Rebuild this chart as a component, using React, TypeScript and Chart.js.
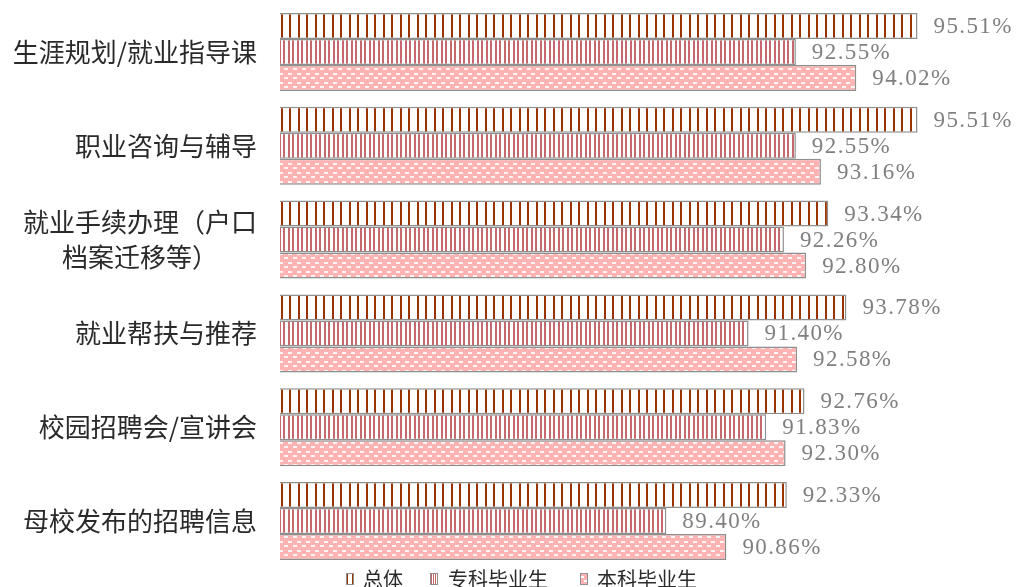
import React, { useEffect, useRef } from "react";
import { Chart, registerables } from "chart.js";

Chart.register(...registerables);

const categories: (string | string[])[] = [
  "生涯规划/就业指导课",
  "职业咨询与辅导",
  ["就业手续办理（户口", "档案迁移等）"],
  "就业帮扶与推荐",
  "校园招聘会/宣讲会",
  "母校发布的招聘信息",
];
const seriesNames = ["总体", "专科毕业生", "本科毕业生"];
const overall = [95.51, 95.51, 93.34, 93.78, 92.76, 92.33];
const junior = [92.55, 92.55, 92.26, 91.4, 91.83, 89.4];
const bachelor = [94.02, 93.16, 92.8, 92.58, 92.3, 90.86];
const axisMin = 80;
const axisMax = 97.76;

const DARK_RED = "#993300";
const ROSE = "#c46a6e";
const PINK = "#ffb3b3";
const BORDER = "#8f8f8f";

function makePattern(kind: number): CanvasPattern | string {
  const c = document.createElement("canvas");
  const ctx = c.getContext("2d");
  if (!ctx) return "#fff";
  if (kind === 0) {
    c.width = 17;
    c.height = 4;
    ctx.fillStyle = "#ffffff";
    ctx.fillRect(0, 0, 17, 4);
    ctx.fillStyle = DARK_RED;
    ctx.fillRect(0, 0, 2, 4);
    ctx.fillRect(9, 0, 2, 4);
  } else if (kind === 1) {
    c.width = 9;
    c.height = 4;
    ctx.fillStyle = "#ffffff";
    ctx.fillRect(0, 0, 9, 4);
    ctx.fillStyle = ROSE;
    ctx.fillRect(0, 0, 2, 4);
    ctx.fillRect(4, 0, 2, 4);
  } else {
    c.width = 9;
    c.height = 9;
    ctx.fillStyle = PINK;
    ctx.fillRect(0, 0, 9, 9);
    ctx.fillStyle = "#fff4f4";
    ctx.fillRect(0, 1, 4, 2);
    ctx.fillRect(5, 5, 4, 2);
  }
  const p = ctx.createPattern(c, "repeat");
  return p || "#fff";
}

const labelPlugin = {
  id: "customLabels",
  afterDraw(chart: any) {
    const ctx: CanvasRenderingContext2D = chart.ctx;
    ctx.save();
    // value labels
    ctx.font = '23px "Liberation Serif"';
    (ctx as any).letterSpacing = "1.4px";
    ctx.fillStyle = "#808080";
    ctx.textAlign = "left";
    ctx.textBaseline = "middle";
    chart.data.datasets.forEach((ds: any, di: number) => {
      const meta = chart.getDatasetMeta(di);
      meta.data.forEach((bar: any, i: number) => {
        const v = ds.data[i] as number;
        ctx.fillText(v.toFixed(2) + "%", bar.x + 16, bar.y + 1);
      });
    });
    (ctx as any).letterSpacing = "0px";
    // category labels
    const yScale = chart.scales.y;
    ctx.font = '26px "Noto Sans CJK SC"';
    ctx.fillStyle = "#2a2a2a";
    ctx.textAlign = "center";
    const rightEdge = 257;
    const lineH = 35;
    categories.forEach((cat, i) => {
      const lines = Array.isArray(cat) ? cat : [cat];
      const w = Math.max(...lines.map((l) => ctx.measureText(l).width));
      const cx = rightEdge - w / 2;
      const cy = yScale.getPixelForValue(i);
      lines.forEach((l, k) => {
        ctx.fillText(l, cx, cy + (k - (lines.length - 1) / 2) * lineH);
      });
    });
    // legend
    const legendY = 579;
    const items = [
      { box: 346, text: 363 },
      { box: 430, text: 448 },
      { box: 580, text: 597 },
    ];
    ctx.font = '20px "Noto Sans CJK SC"';
    ctx.textAlign = "left";
    items.forEach((it, k) => {
      const bx = it.box;
      const by = legendY - 6;
      const bw = 8;
      const bh = 12;
      if (k === 0) {
        ctx.fillStyle = "#ffffff";
        ctx.fillRect(bx, by, bw, bh);
        ctx.fillStyle = DARK_RED;
        ctx.fillRect(bx, by, 2, bh);
        ctx.fillRect(bx + bw - 2, by, 2, bh);
      } else if (k === 1) {
        ctx.fillStyle = "#ffffff";
        ctx.fillRect(bx, by, bw, bh);
        ctx.fillStyle = ROSE;
        ctx.fillRect(bx + 1, by, 1, bh);
        ctx.fillRect(bx + 3, by, 1, bh);
        ctx.fillRect(bx + 5, by, 1, bh);
      } else {
        ctx.fillStyle = PINK;
        ctx.fillRect(bx, by, bw, bh);
        ctx.fillStyle = "#ffffff";
        ctx.fillRect(bx + 1, by + 3, 3, 2);
        ctx.fillRect(bx + 4, by + 7, 3, 2);
      }
      ctx.strokeStyle = BORDER;
      ctx.lineWidth = 1;
      ctx.strokeRect(bx + 0.5, by + 0.5, bw - 1, bh - 1);
      ctx.fillStyle = "#2a2a2a";
      ctx.textBaseline = "middle";
      ctx.fillText(seriesNames[k], it.text, legendY);
    });
    ctx.restore();
  },
};

export default function App() {
  const ref = useRef<HTMLCanvasElement | null>(null);
  useEffect(() => {
    if (!ref.current) return;
    const patterns = [makePattern(0), makePattern(1), makePattern(2)];
    const seriesData = [overall, junior, bachelor];
    const chart = new Chart(ref.current, {
      type: "bar",
      data: {
        labels: categories as any,
        datasets: seriesNames.map((name, k) => ({
          label: name,
          data: seriesData[k],
          backgroundColor: patterns[k] as any,
          borderColor: BORDER,
          borderWidth: 1.5,
          borderSkipped: false,
          categoryPercentage: 0.8313,
          barPercentage: 1,
        })),
      },
      options: {
        indexAxis: "y",
        responsive: false,
        animation: false,
        layout: { padding: { left: 280, right: 6, top: 5, bottom: 19 } },
        plugins: {
          legend: { display: false },
          tooltip: { enabled: false },
        },
        scales: {
          x: { display: false, min: axisMin, max: axisMax },
          y: { display: false },
        },
      },
      plugins: [labelPlugin],
    });
    return () => chart.destroy();
  }, []);
  return (
    <div style={{ position: "absolute", left: 0, top: 0, width: 1016, height: 587, background: "#fff" }}>
      <canvas ref={ref} width={1016} height={587} />
    </div>
  );
}
